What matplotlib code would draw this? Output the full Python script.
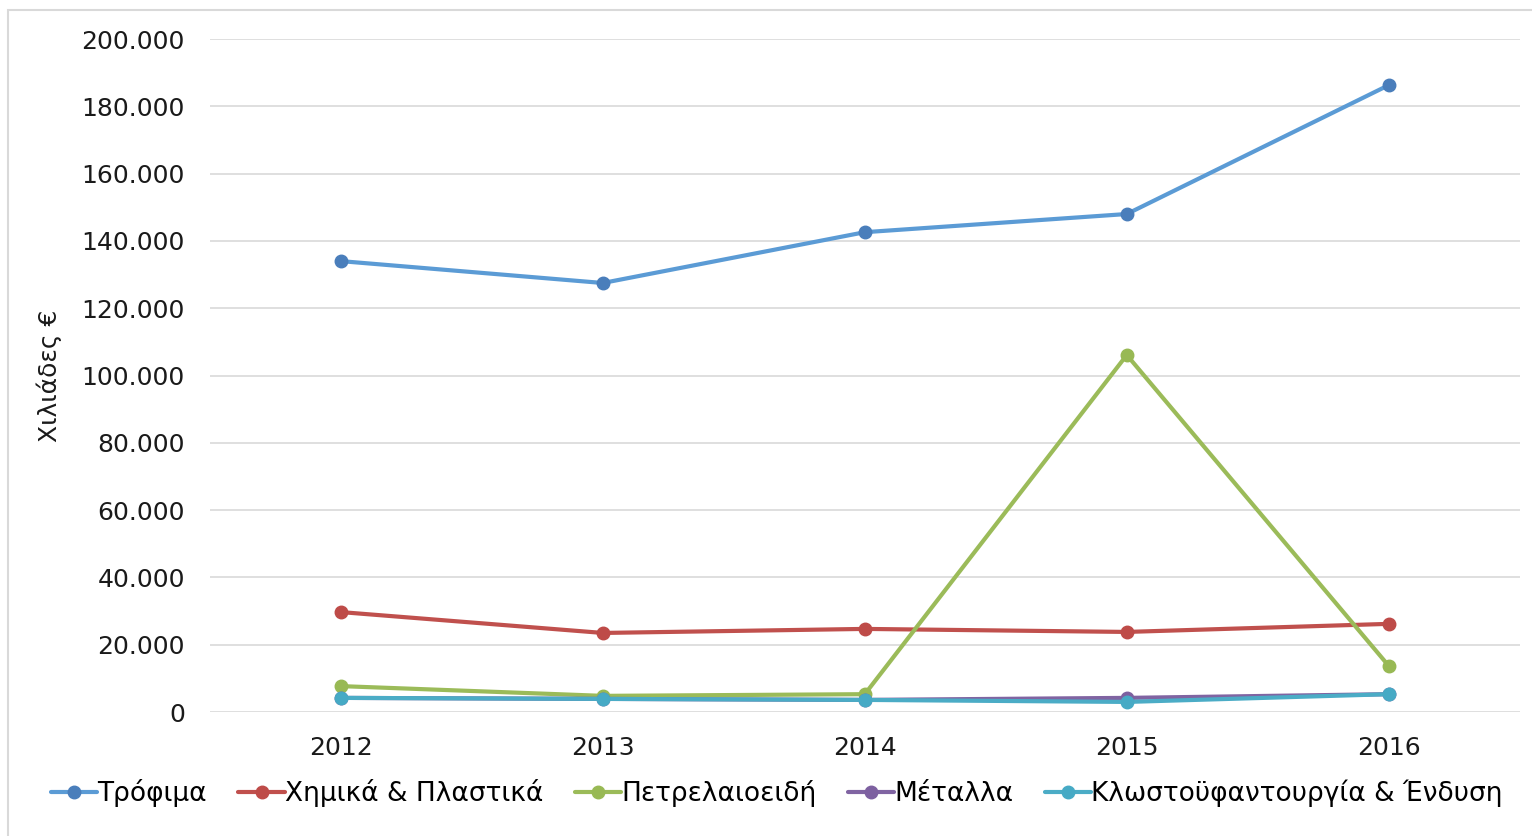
import matplotlib
matplotlib.use("Agg")
import matplotlib.pyplot as plt
from matplotlib.ticker import FuncFormatter, MultipleLocator
from matplotlib.patches import Rectangle

plt.rcParams['font.family'] = ['DejaVu Sans']

years = ["2012", "2013", "2014", "2015", "2016"]
trofima = [134000, 127500, 142600, 148000, 186300]
chimika = [29700, 23500, 24700, 23800, 26200]
petrelaioeidi = [7700, 4800, 5300, 106100, 13700]
metalla = [4200, 3900, 3600, 4200, 5300]
klosto = [4200, 3900, 3600, 3000, 5300]

series_names = ["Τρόφιμα", "Χημικά & Πλαστικά", "Πετρελαιοειδή", "Μέταλλα",
                "Κλωστοϋφαντουργία & Ένδυση"]
series_values = [trofima, chimika, petrelaioeidi, metalla, klosto]
line_colors = ["#5B9BD5", "#C0504D", "#9BBB59", "#8064A2", "#4BACC6"]
marker_colors = ["#4A7EBB", "#BE4B48", "#98B954", "#7D60A0", "#46AAC5"]

fig = plt.figure(figsize=(15.32, 8.36), dpi=100)
ax = fig.add_axes([0.137, 0.1483, 0.855, 0.805])

x = list(range(len(years)))
for name, vals, lc, mc in zip(series_names, series_values, line_colors, marker_colors):
    ax.plot(x, vals, color=lc, lw=3.0, marker='o', ms=9,
            markerfacecolor=mc, markeredgecolor=mc, label=name,
            solid_capstyle='round')

ax.set_xlim(-0.5, 4.5)
ax.set_ylim(0, 200000)
ax.set_xticks(x)
ax.set_xticklabels(years)
ax.yaxis.set_major_locator(MultipleLocator(20000))
ax.yaxis.set_major_formatter(FuncFormatter(lambda v, p: f"{v:,.0f}".replace(",", ".")))
ax.grid(axis='y', color='#D9D9D9', lw=1.2)
ax.set_axisbelow(True)
for s in ax.spines.values():
    s.set_visible(False)
ax.tick_params(axis='both', length=0, labelsize=18, colors='#1a1a1a')
ax.tick_params(axis='y', pad=18)
ax.tick_params(axis='x', pad=17)

fig.text(0.032, 0.55, "Χιλιάδες €", rotation=90, ha='center', va='center',
         fontsize=18, color='#1a1a1a')

leg = fig.legend(loc='center', bbox_to_anchor=(0.507, 0.051), ncol=5,
                 frameon=False, fontsize=19, handlelength=1.75,
                 handletextpad=0.0, columnspacing=1.2, borderaxespad=0)

fig.patches.append(Rectangle((0.0052, -0.01), 0.999, 0.998, transform=fig.transFigure,
                             fill=False, edgecolor='#D9D9D9', lw=1.5))

fig.savefig("out.png", dpi=100, facecolor='white')
